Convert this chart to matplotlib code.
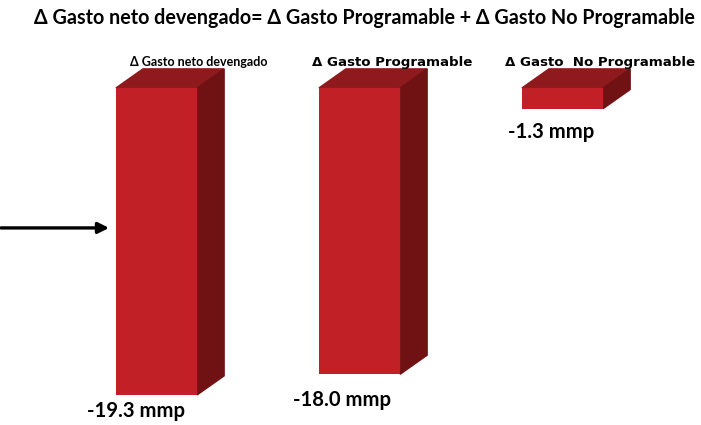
import matplotlib
matplotlib.use("Agg")
import matplotlib.pyplot as plt
from matplotlib.patches import Polygon

plt.rcParams['font.family'] = ['Lato', 'DejaVu Sans']

# Data
categories = ['Δ Gasto neto devengado', 'Δ Gasto Programable', 'Δ Gasto  No Programable']
values = [-19.3, -18.0, -1.3]
value_labels = ['-19.3 mmp', '-18.0 mmp', '-1.3 mmp']
title = 'Δ Gasto neto devengado= Δ Gasto Programable + Δ Gasto No Programable'

FRONT = '#C12027'
TOP = '#8E1A1D'
SIDE = '#701214'

fig = plt.figure(figsize=(7.01, 4.25), dpi=100)
ax = fig.add_axes([0, 0, 1, 1])
ax.set_xlim(-0.771, 2.682)
ax.set_ylim(-21.19, 5.53)
ax.axis('off')

x = list(range(len(values)))
width = 0.40
dx, dy = 0.133, 1.2   # fake 3d depth, data units

bars = ax.bar(x, values, width=width, color=FRONT, zorder=3)
for b in bars:
    x0 = b.get_x()
    x1 = x0 + b.get_width()
    y0 = 0
    y1 = b.get_height()
    # top face
    ax.add_patch(Polygon([(x0, y0), (x1, y0), (x1 + dx, y0 + dy), (x0 + dx, y0 + dy)],
                         closed=True, color=TOP, zorder=2))
    # side face
    ax.add_patch(Polygon([(x1, y0), (x1 + dx, y0 + dy), (x1 + dx, y1 + dy), (x1, y1)],
                         closed=True, color=SIDE, zorder=2))

# category labels above bars (left edge offsets from bar centre)
label_dx = [-0.13, -0.236, -0.284]
label_font = [['Lato'], ['DejaVu Sans'], ['DejaVu Sans']]
label_size = [9, 9.6, 9.6]
for xi, lab, off, fam, fs in zip(x, categories, label_dx, label_font, label_size):
    ax.text(xi + off, 1.63, lab, ha='left', va='center', fontsize=fs,
            fontweight='bold', family=fam)

# value labels under bars
value_dx = [-0.34, -0.33, -0.27]
value_dy = [-1.0, -1.6, -1.45]
for xi, v, lab, ox, oy in zip(x, values, value_labels, value_dx, value_dy):
    ax.text(xi + ox, v + oy, lab, ha='left', va='center', fontsize=14.6,
            fontweight='bold')

fig.text(0.52, 0.958, title, ha='center', va='center', fontsize=14.2,
         fontweight='bold')

# arrow pointing at first bar
ax.annotate('', xy=(-0.22, -8.8), xytext=(-0.78, -8.8),
            arrowprops=dict(arrowstyle='-|>', color='black', lw=2.4,
                            mutation_scale=16))

fig.savefig('out.png', dpi=100, facecolor='white')
